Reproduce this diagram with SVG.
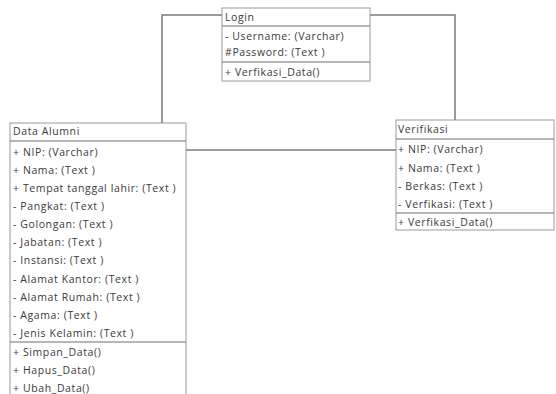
<svg xmlns="http://www.w3.org/2000/svg" width="556" height="394" viewBox="0 0 556 394">
<style>
  .box { fill: #fff; stroke: #9a9a9a; stroke-width: 1; }
  .div { stroke: #6e6e6e; stroke-width: 1.2; }
  .conn { fill: none; stroke: #7a7a7a; stroke-width: 1.5; }
  text { font-family: "Open Sans", "Liberation Sans", sans-serif; font-size: 10.5px; letter-spacing: 0.6px; fill: #3a3a3a; }
</style>
<rect width="556" height="394" fill="#fff"/>
<g id="connectors">
  <polyline class="conn" points="222,15 162,15 162,123"/>
  <polyline class="conn" points="370,15 455,15 455,120"/>
  <line class="conn" x1="186" y1="150" x2="396" y2="150"/>
</g>
<g id="login">
  <rect class="box" x="222" y="8" width="148" height="73"/>
  <line class="div" x1="222" y1="26" x2="370" y2="26"/>
  <line class="div" x1="222" y1="62" x2="370" y2="62"/>
  <text x="225" y="21">Login</text>
  <text x="225" y="40">- Username: (Varchar)</text>
  <text x="225" y="56">#Password: (Text )</text>
  <text x="225" y="76">+ Verfikasi_Data()</text>
</g>
<g id="data-alumni">
  <rect class="box" x="10" y="123" width="176" height="280"/>
  <line class="div" x1="10" y1="141" x2="186" y2="141"/>
  <line class="div" x1="10" y1="342" x2="186" y2="342"/>
  <text x="13" y="135">Data Alumni</text>
  <text x="13" y="156">+ NIP: (Varchar)</text>
  <text x="13" y="174">+ Nama: (Text )</text>
  <text x="13" y="192">+ Tempat tanggal lahir: (Text )</text>
  <text x="13" y="210">- Pangkat: (Text )</text>
  <text x="13" y="228">- Golongan: (Text )</text>
  <text x="13" y="246">- Jabatan: (Text )</text>
  <text x="13" y="264">- Instansi: (Text )</text>
  <text x="13" y="283">- Alamat Kantor: (Text )</text>
  <text x="13" y="301">- Alamat Rumah: (Text )</text>
  <text x="13" y="319">- Agama: (Text )</text>
  <text x="13" y="337">- Jenis Kelamin: (Text )</text>
  <text x="13" y="356">+ Simpan_Data()</text>
  <text x="13" y="374">+ Hapus_Data()</text>
  <text x="13" y="392">+ Ubah_Data()</text>
</g>
<g id="verifikasi">
  <rect class="box" x="396" y="120" width="158" height="110"/>
  <line class="div" x1="396" y1="139" x2="554" y2="139"/>
  <line class="div" x1="396" y1="213" x2="554" y2="213"/>
  <text x="398" y="133">Verifikasi</text>
  <text x="398" y="153">+ NIP: (Varchar)</text>
  <text x="398" y="172">+ Nama: (Text )</text>
  <text x="398" y="190">- Berkas: (Text )</text>
  <text x="398" y="208">- Verfikasi: (Text )</text>
  <text x="398" y="226">+ Verfikasi_Data()</text>
</g>
</svg>
